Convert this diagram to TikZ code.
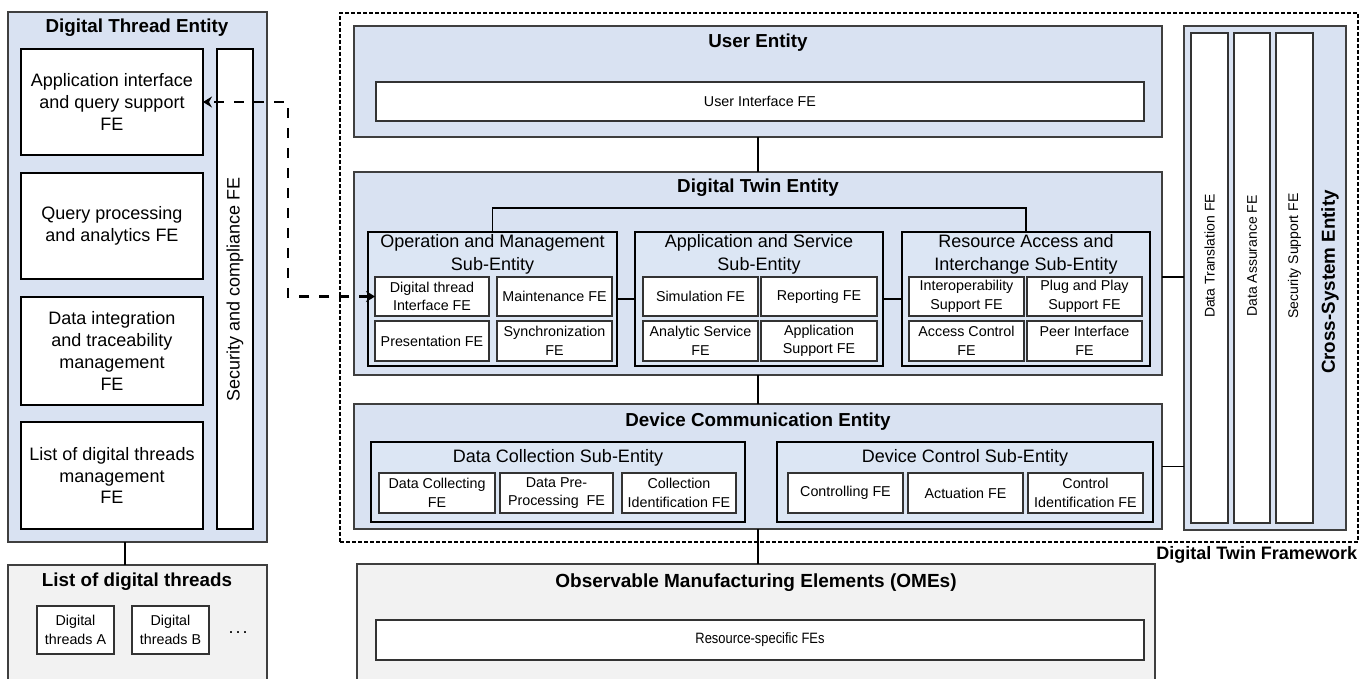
\documentclass[tikz,border=0pt]{standalone}
\usepackage{fontspec}
\setmainfont{Liberation Sans}
\newfontfamily\narrowfont[FakeStretch=0.86]{Liberation Sans}
\usetikzlibrary{arrows.meta,calc}
\definecolor{entfill}{HTML}{D9E2F2}
\definecolor{subfill}{HTML}{DCE6F4}
\definecolor{grayfill}{HTML}{F2F2F2}
\definecolor{entline}{HTML}{3F3F3F}
\definecolor{feline}{HTML}{333333}
\newcommand\fttl{\fontsize{18.8}{22}\selectfont\bfseries}
\newcommand\ffw{\fontsize{18}{22}\selectfont\bfseries}
\newcommand\fdt{\fontsize{18}{21.7}\selectfont}
\newcommand\fsubt{\fontsize{18}{23}\selectfont}
\newcommand\ffe{\fontsize{14.3}{18.5}\selectfont}
\newcommand\fcs{\fontsize{14}{17}\selectfont}
\newcommand\bx[7]{\node[#6, minimum width={#4-#2}, minimum height={#5-#3}] (#1) at ({(#2+#4)/2},{(#3+#5)/2}) {#7};}
\tikzset{
  every node/.style={inner sep=0pt, outer sep=0pt},
  ent/.style={draw=entline, fill=entfill, line width=1.3pt},
  grayent/.style={draw=entline, fill=grayfill, line width=1.3pt},
  subent/.style={draw=black, fill=subfill, line width=2pt},
  fe/.style={draw=feline, fill=white, line width=1.4pt, font=\ffe, align=center},
  dtfe/.style={draw=black, fill=white, line width=2pt, font=\fdt, align=center},
  csbar/.style={draw=feline, fill=white, line width=1.4pt},
  ttl/.style={font=\fttl, align=center},
  subttl/.style={font=\fsubt, align=center},
  conn/.style={draw=black, line width=1.5pt},
  dasharrow/.style={draw=black, line width=2.8pt, dash pattern=on 10pt off 10pt, {Stealth[length=9pt,width=11pt,inset=3pt]}-{Stealth[length=9pt,width=11pt,inset=3pt]}},
  fw/.style={draw=black, line width=1.2pt, dash pattern=on 4pt off 2pt}
}
\begin{document}
\begin{tikzpicture}[x=1pt,y=-1pt]
\useasboundingbox (0,0) rectangle (1370,678);
\clip (0,0) rectangle (1370,678);
\fill[white] (0,0) rectangle (1370,678);

% Digital Thread Entity
\bx{dte}{8}{12}{267}{542}{ent}{}
\node[ttl] (dtet) at (137,28) {Digital Thread Entity};
\bx{dtfe1}{21}{49}{203}{155}{dtfe}{Application interface\\and query support\\FE}
\bx{dtfe2}{21}{173}{203}{279}{dtfe}{Query processing\\and analytics FE}
\bx{dtfe3}{21}{297}{203}{405}{dtfe}{Data integration\\and traceability\\management\\FE}
\bx{dtfe4}{21}{422}{203}{529}{dtfe}{List of digital threads\\management\\FE}
\bx{sec}{217}{49}{253}{529}{draw=black, fill=white, line width=2pt}{}
\node[font=\fdt, rotate=90] (sect) at (sec.center) {Security and compliance FE};

% List of digital threads
\bx{ldt}{8}{565}{267}{700}{grayent}{}
\node[ttl] (ldtt) at (137,582) {List of digital threads};
\bx{dta}{37}{606}{114}{654}{fe}{Digital\\threads A}
\bx{dtb}{132}{606}{209}{654}{fe}{Digital\\threads B}
\node[font=\fontsize{18}{20}\selectfont] (dots) at (238,633) {.\kern2pt.\kern2pt.};
\coordinate (c3) at (125,542);
\draw[conn] (c3) -- (c3 |- ldt.north);

% Framework
\bx{fw}{340}{13}{1358}{542}{fw}{}
\node[font=\ffw, anchor=east] (fwt) at (1357,555) {Digital Twin Framework};

% User Entity
\bx{ue}{354}{26}{1162}{137}{ent}{}
\node[ttl] (uet) at (758,43) {User Entity};
\bx{uife}{376}{82}{1144}{121}{fe}{User Interface FE}

% Digital Twin Entity
\bx{dtw}{354}{172}{1162}{375}{ent}{}
\node[ttl] (dtwt) at (758,188) {Digital Twin Entity};

\bx{om}{368}{232}{617}{366}{subent}{}
\node[subttl] (omt) at (492.5,254.5) {Operation and Management\\Sub-Entity};
\bx{dtint}{375}{277}{489}{316}{fe}{Digital thread\\Interface FE}
\bx{maint}{497}{277}{612}{316}{fe}{Maintenance FE}
\bx{pres}{375}{321}{489}{361}{fe}{Presentation FE}
\bx{sync}{497}{321}{612}{361}{fe}{Synchronization\\FE}

\bx{as}{635}{232}{883}{366}{subent}{}
\node[subttl] (ast) at (759,254.5) {Application and Service\\Sub-Entity};
\bx{sim}{643}{277}{758}{316}{fe}{Simulation FE}
\bx{rep}{761}{277}{877}{316}{fe}{Reporting FE}
\bx{ana}{643}{321}{758}{361}{fe}{Analytic Service\\FE}
\bx{apps}{761}{321}{877}{361}{fe}{Application\\Support FE}

\bx{ra}{902}{232}{1150}{366}{subent}{}
\node[subttl] (rat) at (1026,254.5) {Resource Access and\\Interchange Sub-Entity};
\bx{inter}{909}{277}{1024}{316}{fe}{Interoperability\\Support FE}
\bx{plug}{1027}{277}{1142}{316}{fe}{Plug and Play\\Support FE}
\bx{acc}{909}{321}{1024}{361}{fe}{Access Control\\FE}
\bx{peer}{1027}{321}{1142}{361}{fe}{Peer Interface\\FE}

% Device Communication Entity
\bx{dce}{354}{404}{1162}{529}{ent}{}
\node[ttl] (dcet) at (758,422) {Device Communication Entity};
\bx{dc}{371}{442}{745}{522}{subent}{}
\node[subttl] (dct) at (558,458) {Data Collection Sub-Entity};
\bx{dcol}{379}{473}{495}{513}{fe}{Data Collecting\\FE}
\bx{dpre}{500}{473}{613}{513}{fe}{Data Pre-\\Processing\ \ FE}
\bx{cid}{622}{473}{736}{513}{fe}{Collection\\Identification FE}
\bx{dctl}{777}{442}{1153}{522}{subent}{}
\node[subttl] (dctlt) at (965,458) {Device Control Sub-Entity};
\bx{ctrl}{788}{473}{903}{513}{fe}{Controlling FE}
\bx{act}{908}{473}{1023}{513}{fe}{Actuation FE}
\bx{ctid}{1028}{473}{1143}{513}{fe}{Control\\Identification FE}

% Cross-System Entity
\bx{cs}{1184}{26}{1346}{530}{ent}{}
\bx{dtr}{1191}{33}{1228}{523}{csbar}{}
\bx{das}{1234}{33}{1270}{523}{csbar}{}
\bx{ssp}{1276}{33}{1313}{523}{csbar}{}
\node[font=\fcs, rotate=90] (dtrt) at (1209.5,256) {Data Translation FE};
\node[font=\fcs, rotate=90] (dast) at (1252,256) {Data Assurance FE};
\node[font=\fcs, rotate=90] (sspt) at (1294.5,256) {Security Support FE};
\node[font=\fttl, rotate=90] (cst) at (1330,282) {Cross-System Entity};

% OMEs
\bx{ome}{357}{564}{1155}{700}{grayent}{}
\node[font=\fontsize{19}{22}\selectfont\bfseries] (omet) at (756,583) {Observable Manufacturing Elements (OMEs)};
\bx{rsfe}{376}{620}{1144}{660}{fe}{}
\node[font=\fontsize{15}{17}\selectfont\narrowfont] (rsfet) at (rsfe.center) {Resource-specific FEs};

% connectors
\draw[conn] (ue.south) -- (dtw.north);
\draw[conn] (dtw.south) -- (dce.north);
\draw[conn] (dce.south) -- (dce.south |- ome.north);
\draw[conn] (om.north) -- ++(0,-24) -| (ra.north);
\draw[conn] (om.east) -- (as.west);
\draw[conn] (as.east) -- (ra.west);
\coordinate (c1) at (1162,277);
\draw[conn] (c1) -- (c1 -| cs.west);
\draw[conn] (dce.east) -- (dce.east -| cs.west);

% dashed arrow
\draw[dasharrow] (dtint.west) -- ++(-87,0) |- (dtfe1.east);
\end{tikzpicture}
\end{document}
